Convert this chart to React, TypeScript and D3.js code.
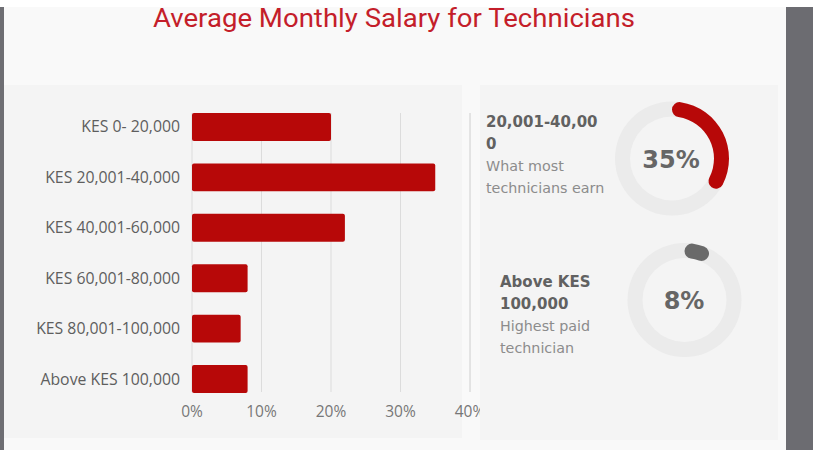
import React from 'react';
import * as d3 from 'd3';

const categories = [
  'KES 0- 20,000',
  'KES 20,001-40,000',
  'KES 40,001-60,000',
  'KES 60,001-80,000',
  'KES 80,001-100,000',
  'Above KES 100,000',
];
const shares = [20, 35, 22, 8, 7, 8];
const xTicks = [0, 10, 20, 30, 40];
const tickLabels = ['0%', '10%', '20%', '30%', '40%'];

const highlightTitles = [['20,001-40,00', '0'], ['Above KES', '100,000']];
const highlightSubtitles = [['What most', 'technicians earn'], ['Highest paid', 'technician']];
const highlightValues = [35, 8];
const highlightLabels = ['35%', '8%'];
const highlightColors = ['#b70808', '#6a6a6a'];

const W = 813;
const H = 450;

export default function App() {
  const x = d3.scaleLinear().domain([0, 40]).range([192, 470]);
  const y = d3
    .scaleBand<string>()
    .domain(categories)
    .range([113, 393])
    .paddingInner(0.446)
    .paddingOuter(0);

  const arcGen = d3
    .arc<any>()
    .innerRadius(42)
    .outerRadius(57)
    .cornerRadius(7.5);

  const fullRing = d3.arc<any>().innerRadius(42).outerRadius(57).startAngle(0).endAngle(2 * Math.PI);

  const blocks = [
    { cx: 672, cy: 158.5, tx: 486, ty: 126.7, vx: 671, vy: 159.5 },
    { cx: 684.5, cy: 300, tx: 500, ty: 286.7, vx: 684, vy: 300.7 },
  ];

  const font = "'Open Sans', sans-serif";
  const boldFont = "'DejaVu Sans', sans-serif";

  return (
    <svg
      width={W}
      height={H}
      viewBox={`0 0 ${W} ${H}`}
      style={{ position: 'fixed', left: 0, top: 0, display: 'block' }}
    >
      <rect x={0} y={0} width={W} height={H} fill="#f9f9f9" />
      <rect x={0} y={0} width={W} height={7} fill="#ffffff" />
      <rect x={0} y={7} width={4} height={H - 7} fill="#6e6e73" />
      <rect x={786} y={7} width={27} height={H - 7} fill="#6c6c71" />

      <text
        x={394}
        y={26.7}
        textAnchor="middle"
        fontFamily="Roboto, sans-serif"
        fontSize={25}
        fill="#c41e2a"
        textLength={482}
        lengthAdjust="spacingAndGlyphs"
      >
        Average Monthly Salary for Technicians
      </text>

      {/* left panel */}
      <rect x={4} y={85} width={458} height={353} fill="#f4f4f4" />

      {/* grid */}
      {xTicks.map((t) => (
        <line
          key={'g' + t}
          x1={x(t)}
          x2={x(t)}
          y1={113}
          y2={392}
          stroke="#dcdcdc"
          strokeWidth={1}
        />
      ))}

      {/* bars */}
      {categories.map((c, i) => (
        <rect
          key={c}
          x={x(0)}
          y={y(c)}
          width={x(shares[i]) - x(0)}
          height={y.bandwidth()}
          rx={2}
          fill="#b70808"
        />
      ))}

      {/* category labels */}
      {categories.map((c) => (
        <text
          key={'l' + c}
          x={180}
          y={(y(c) as number) + y.bandwidth() / 2}
          dy="0.35em"
          textAnchor="end"
          fontFamily={font}
          fontSize={15.8}
          fill="#5e5e5e"
        >
          {c}
        </text>
      ))}

      {/* tick labels */}
      {xTicks.map((t, i) => (
        <text
          key={'t' + t}
          x={x(t)}
          y={416.7}
          textAnchor="middle"
          fontFamily={font}
          fontSize={15.5}
          fill="#777777"
        >
          {tickLabels[i]}
        </text>
      ))}

      {/* right panel */}
      <rect x={480} y={85} width={298} height={355} fill="#f4f4f4" />
      <line x1={x(40)} x2={x(40)} y1={113} y2={392} stroke="#dcdcdc" strokeWidth={1} />

      {blocks.map((b, i) => (
        <g key={'b' + i}>
          {highlightTitles[i].map((line, j) => (
            <text
              key={'ht' + j}
              x={b.tx}
              y={b.ty + j * 21.8}
              fontFamily={boldFont}
              fontWeight={700}
              fontSize={15}
              fill="#616161"
            >
              {line}
            </text>
          ))}
          {highlightSubtitles[i].map((line, j) => (
            <text
              key={'hs' + j}
              x={b.tx}
              y={b.ty + (j + 2) * 22.1}
              fontFamily={boldFont}
              fontSize={14.3}
              fill="#8c8c8c"
            >
              {line}
            </text>
          ))}
          <g transform={`translate(${b.cx},${b.cy})`}>
            <path d={fullRing(null as any) as string} fill="#ebebeb" />
            <path
              d={
                arcGen({
                  startAngle: 0,
                  endAngle: (highlightValues[i] / 100) * 2 * Math.PI,
                }) as string
              }
              fill={highlightColors[i]}
            />
          </g>
          <text
            x={b.vx}
            y={b.vy}
            dy="0.36em"
            textAnchor="middle"
            fontFamily={boldFont}
            fontWeight={700}
            fontSize={24}
            fill="#666666"
          >
            {highlightLabels[i]}
          </text>
        </g>
      ))}
    </svg>
  );
}
